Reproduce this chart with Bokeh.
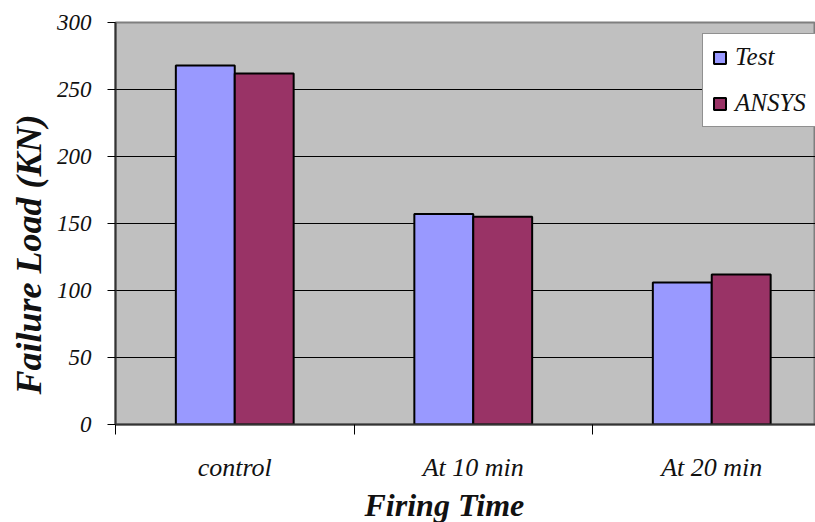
from bokeh.plotting import figure
from bokeh.models import Range1d, FixedTicker, Legend, LegendItem, Title
from bokeh.embed import file_html
from bokeh.resources import INLINE

# Failure load by firing time: test results vs. ANSYS predictions
categories = ["control", "At 10 min", "At 20 min"]
test_load = [268, 157, 106]
ansys_load = [262, 155, 112]
y_ticks = [0, 50, 100, 150, 200, 250, 300]
x_title = "Firing Time"
y_title = "Failure Load (KN)"

FONT = "Liberation Serif"
n = len(categories)
centers = [i + 0.5 for i in range(n)]
bar_w = 0.247
test_x = [c - bar_w / 2 for c in centers]
ansys_x = [c + bar_w / 2 for c in centers]

p = figure(
    width=815, height=522,
    output_backend="svg", toolbar_location=None,
    x_range=Range1d(0, 2.935), y_range=Range1d(0, 300),
    min_border_left=115, min_border_right=0,
    min_border_top=22, min_border_bottom=97,
    background_fill_color="#C0C0C0", border_fill_color="white",
)
p.outline_line_color = "#7F7F7F"
p.outline_line_width = 2

r_test = p.vbar(x=test_x, top=test_load, width=bar_w, bottom=0,
                fill_color="#9999FF", line_color="black", line_width=2)
r_ansys = p.vbar(x=ansys_x, top=ansys_load, width=bar_w, bottom=0,
                 fill_color="#993366", line_color="black", line_width=2)

# grid
p.xgrid.grid_line_color = None
p.ygrid.ticker = FixedTicker(ticks=y_ticks[1:-1])
p.ygrid.grid_line_color = "black"
p.ygrid.grid_line_width = 1
p.ygrid.level = "underlay"

# y axis
p.yaxis.ticker = FixedTicker(ticks=y_ticks)
p.yaxis.axis_line_color = "#333333"
p.yaxis.axis_line_width = 2
p.yaxis.major_tick_out = 8
p.yaxis.major_tick_in = 0
p.yaxis.major_tick_line_color = "black"
p.yaxis.minor_tick_line_color = None
p.yaxis.major_label_standoff = 16
p.yaxis.major_label_text_font = FONT
p.yaxis.major_label_text_font_style = "italic"
p.yaxis.major_label_text_font_size = "23px"
p.yaxis.major_label_text_color = "#111111"

# x axis: labels at group centres, tick marks at group boundaries
p.xaxis.ticker = FixedTicker(ticks=centers, minor_ticks=list(range(n + 1)))
p.xaxis.major_label_overrides = {c: lab for c, lab in zip(centers, categories)}
p.xaxis.axis_line_color = "#333333"
p.xaxis.axis_line_width = 2
p.xaxis.major_tick_out = 0
p.xaxis.major_tick_in = 0
p.xaxis.minor_tick_out = 10
p.xaxis.minor_tick_in = 0
p.xaxis.minor_tick_line_color = "black"
p.xaxis.major_label_standoff = 18
p.xaxis.major_label_text_font = FONT
p.xaxis.major_label_text_font_style = "italic"
p.xaxis.major_label_text_font_size = "26px"
p.xaxis.major_label_text_color = "#111111"

# axis titles as side titles, so they can be offset along the frame
p.add_layout(Title(text=x_title, align="left", offset=249, standoff=0,
                   text_font=FONT, text_font_style="bold italic",
                   text_font_size="32px", text_color="#111111"), "below")
p.add_layout(Title(text=y_title, align="left", offset=30, standoff=10,
                   text_font=FONT, text_font_style="bold italic",
                   text_font_size="36px", text_color="#111111"), "left")

legend = Legend(
    items=[LegendItem(label="Test", renderers=[r_test]),
           LegendItem(label="ANSYS", renderers=[r_ansys])],
    location=(587, 297),
    margin=0, padding=9, spacing=18,
    glyph_width=15, glyph_height=15, label_height=24,
    label_standoff=8,
    label_text_font=FONT, label_text_font_style="italic",
    label_text_font_size="25px", label_text_color="#111111",
    border_line_color="#222222", border_line_width=1.5,
    background_fill_color="white", background_fill_alpha=1,
)
p.add_layout(legend)

open("out.html", "w").write(file_html(p, INLINE))
